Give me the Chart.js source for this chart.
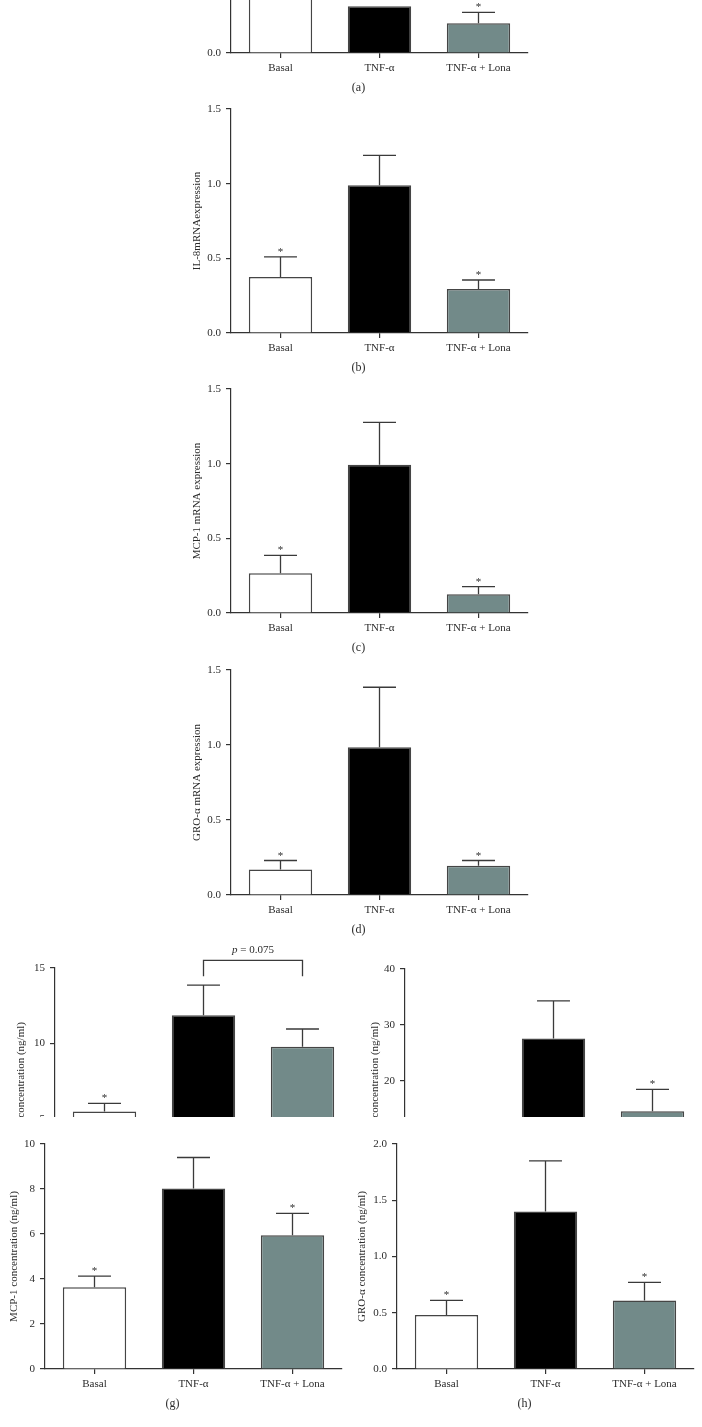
<!DOCTYPE html>
<html>
<head>
<meta charset="utf-8">
<script src="https://cdn.jsdelivr.net/npm/chart.js@4/dist/chart.umd.min.js"></script>
<style>
  html, body { margin: 0; padding: 0; background: #fff; }
  #page { position: relative; width: 702px; height: 1427px; overflow: hidden; background: #fff; }
  #page canvas { position: absolute; }
  #bottomRow { position: absolute; left: 0; top: 1117px; width: 702px; height: 310px; background: #fff; z-index: 2; }
</style>
</head>
<body>
<div id="page">
  <canvas id="chartA"></canvas>
  <canvas id="chartB"></canvas>
  <canvas id="chartC"></canvas>
  <canvas id="chartD"></canvas>
  <canvas id="chartE"></canvas>
  <canvas id="chartF"></canvas>
  <div id="bottomRow">
    <canvas id="chartG"></canvas>
    <canvas id="chartH"></canvas>
  </div>
</div>
<script>
// groups on the x axis
var categories = ["Basal", "TNF-\u03b1", "TNF-\u03b1 + Lona"];

// (a) IL-6 mRNA (mostly cut off at the top)
var il6MrnaMean = [1.6, 1.0, 0.64];
var il6MrnaErr = [0.3, 0, 0.23];
var il6MrnaStar = [true, false, true];

// (b) IL-8 mRNA
var il8MrnaMean = [0.375, 0.99, 0.295];
var il8MrnaErr = [0.135, 0.2, 0.06];
var il8MrnaStar = [true, false, true];

// (c) MCP-1 mRNA
var mcp1MrnaMean = [0.266, 0.993, 0.125];
var mcp1MrnaErr = [0.12, 0.284, 0.051];
var mcp1MrnaStar = [true, false, true];

// (d) GRO-alpha mRNA
var groMrnaMean = [0.17, 0.985, 0.195];
var groMrnaErr = [0.06, 0.4, 0.035];
var groMrnaStar = [true, false, true];

// (e) IL-6 protein, ng/ml (lower half covered by g)
var il6ConcMean = [5.47, 11.86, 9.78];
var il6ConcErr = [0.55, 2.01, 1.17];
var il6ConcStar = [true, false, false];
var il6Bracket = [15.5, 14.45]; // bar top, leg end (data units)

// (f) IL-8 protein, ng/ml (lower half covered by h)
var il8ConcMean = [8.0, 27.6, 14.6];
var il8ConcErr = [2.0, 6.7, 3.9];
var il8ConcStar = [true, false, true];

// (g) MCP-1 protein, ng/ml
var mcp1ConcMean = [3.63, 8.02, 5.94];
var mcp1ConcErr = [0.5, 1.38, 0.98];
var mcp1ConcStar = [true, false, true];

// (h) GRO-alpha protein, ng/ml
var groConcMean = [0.479, 1.4, 0.61];
var groConcErr = [0.131, 0.45, 0.16];
var groConcStar = [true, false, true];

var barColors = ["#ffffff", "#000000", "#728a89"];
var ink = "#2b2b2b";
var serif = "'Liberation Serif', 'DejaVu Serif', serif";

// error bars, stars, bracket and panel letter
var panelExtras = {
    id: "panelExtras",
    afterDatasetsDraw: function (chart, args, opts) {
        var ctx = chart.ctx;
        var y = chart.scales.y;
        var meta = chart.getDatasetMeta(0);
        var area = chart.chartArea;
        ctx.save();
        ctx.strokeStyle = "#3a3a3a";
        ctx.lineWidth = 1.3;
        ctx.fillStyle = ink;
        opts.mean.forEach(function (m, i) {
            var bar = meta.data[i];
            var top = y.getPixelForValue(m);
            var cap = y.getPixelForValue(m + opts.err[i]);
            var half = bar.width * 0.26;
            if (opts.err[i] > 0) {
                ctx.beginPath();
                ctx.moveTo(bar.x, top);
                ctx.lineTo(bar.x, cap);
                ctx.moveTo(bar.x - half, cap);
                ctx.lineTo(bar.x + half, cap);
                ctx.stroke();
            }
            if (opts.star[i]) {
                ctx.font = "11px " + serif;
                ctx.textAlign = "center";
                ctx.textBaseline = "alphabetic";
                ctx.fillText("*", bar.x, cap - 2);
            }
        });

        if (opts.bracket) {
            var b1 = meta.data[opts.bracket.from], b2 = meta.data[opts.bracket.to];
            var by = y.getPixelForValue(opts.bracket.top);
            var ly = y.getPixelForValue(opts.bracket.leg);
            ctx.beginPath();
            ctx.moveTo(b1.x, ly);
            ctx.lineTo(b1.x, by);
            ctx.lineTo(b2.x, by);
            ctx.lineTo(b2.x, ly);
            ctx.stroke();
            var mid = (b1.x + b2.x) / 2;
            ctx.textBaseline = "middle";
            ctx.textAlign = "left";
            ctx.font = "italic 11px " + serif;
            var wp = ctx.measureText("p").width;
            ctx.font = "11px " + serif;
            var wr = ctx.measureText(" = 0.075").width;
            var sx = mid - (wp + wr) / 2;
            ctx.font = "italic 11px " + serif;
            ctx.fillText("p", sx, by - 10);
            ctx.font = "11px " + serif;
            ctx.fillText(" = 0.075", sx + wp, by - 10);
        }

        if (opts.letter) {
            ctx.font = "12px " + serif;
            ctx.textAlign = "center";
            ctx.textBaseline = "middle";
            ctx.fillText(opts.letter, (area.left + area.right) / 2 - 21, area.bottom + 35);
        }
        ctx.restore();
    }
};

var PAD_L = 45, PAD_R = 12, PAD_T = 30, X_H = 25, PAD_B = 25;

function makePanel(id, g, mean, err, star, extra) {
    var canvas = document.getElementById(id);
    var w = PAD_L + (g.R - g.L) + PAD_R;
    var h = PAD_T + (g.B - g.T) + X_H + PAD_B;
    var offTop = g.offTop || 0;
    canvas.width = w;
    canvas.height = h;
    canvas.style.width = w + "px";
    canvas.style.height = h + "px";
    canvas.style.left = (g.L - PAD_L) + "px";
    canvas.style.top = (g.T - PAD_T - offTop) + "px";

    return new Chart(canvas.getContext("2d"), {
        type: "bar",
        data: {
            labels: categories,
            datasets: [{
                data: mean,
                backgroundColor: barColors,
                borderColor: "#454545",
                borderWidth: 1.5,
                barPercentage: 0.64,
                categoryPercentage: 1
            }]
        },
        options: {
            responsive: false,
            animation: false,
            devicePixelRatio: 1,
            layout: { padding: { left: 0, right: PAD_R, top: PAD_T, bottom: PAD_B } },
            plugins: {
                legend: { display: false },
                tooltip: { enabled: false },
                panelExtras: Object.assign({ mean: mean, err: err, star: star }, extra)
            },
            scales: {
                x: {
                    offset: true,
                    grid: { display: true, drawOnChartArea: false, drawTicks: true, tickLength: 5, offset: false, color: "#333", lineWidth: 1.2 },
                    border: { display: true, color: "#333", width: 1.2 },
                    ticks: { color: ink, padding: 4, font: { family: serif, size: 11 }, maxRotation: 0 },
                    afterFit: function (s) { s.height = X_H; }
                },
                y: {
                    min: g.min,
                    max: g.max,
                    grid: { display: true, drawOnChartArea: false, drawTicks: true, tickLength: 5, color: "#333", lineWidth: 1.2 },
                    border: { display: true, color: "#333", width: 1.2 },
                    ticks: {
                        stepSize: g.step,
                        color: ink,
                        padding: 5,
                        font: { family: serif, size: 11 },
                        callback: function (v) { return v.toFixed(g.dec); }
                    },
                    title: {
                        display: !!g.title,
                        text: g.title || "",
                        color: ink,
                        font: { family: serif, size: 11 },
                        padding: { top: g.titleX - (g.L - PAD_L) - 6.6, bottom: 0 }
                    },
                    afterFit: function (s) { s.width = PAD_L; }
                }
            }
        },
        plugins: [panelExtras]
    });
}

makePanel("chartA", { L: 231, R: 528, T: -227, B: 53, min: 0, max: 6, step: 2, dec: 1, title: "IL-6 mRNA expression", titleX: 197 },
    il6MrnaMean, il6MrnaErr, il6MrnaStar, { letter: "(a)" });
makePanel("chartB", { L: 231, R: 528, T: 109, B: 333, min: 0, max: 1.5, step: 0.5, dec: 1, title: "IL-8mRNAexpression", titleX: 197 },
    il8MrnaMean, il8MrnaErr, il8MrnaStar, { letter: "(b)" });
makePanel("chartC", { L: 231, R: 528, T: 389, B: 613, min: 0, max: 1.5, step: 0.5, dec: 1, title: "MCP-1 mRNA expression", titleX: 197 },
    mcp1MrnaMean, mcp1MrnaErr, mcp1MrnaStar, { letter: "(c)" });
makePanel("chartD", { L: 231, R: 528, T: 670, B: 895, min: 0, max: 1.5, step: 0.5, dec: 1, title: "GRO-\u03b1 mRNA expression", titleX: 197 },
    groMrnaMean, groMrnaErr, groMrnaStar, { letter: "(d)" });
makePanel("chartE", { L: 55, R: 352, T: 968, B: 1194, min: 0, max: 15, step: 5, dec: 0, title: "IL-6 concentration (ng/ml)", titleX: 21 },
    il6ConcMean, il6ConcErr, il6ConcStar, { letter: "(e)", bracket: { from: 1, to: 2, top: il6Bracket[0], leg: il6Bracket[1] } });
makePanel("chartF", { L: 405, R: 702, T: 969, B: 1193, min: 0, max: 40, step: 10, dec: 0, title: "IL-8 concentration (ng/ml)", titleX: 375 },
    il8ConcMean, il8ConcErr, il8ConcStar, { letter: "(f)" });
// g and h sit inside the white bottom row, which starts at y = 1117
makePanel("chartG", { L: 45, R: 342, T: 1144, B: 1369, offTop: 1117, min: 0, max: 10, step: 2, dec: 0, title: "MCP-1 concentration (ng/ml)", titleX: 14 },
    mcp1ConcMean, mcp1ConcErr, mcp1ConcStar, { letter: "(g)" });
makePanel("chartH", { L: 397, R: 694, T: 1144, B: 1369, offTop: 1117, min: 0, max: 2, step: 0.5, dec: 1, title: "GRO-\u03b1 concentration (ng/ml)", titleX: 362 },
    groConcMean, groConcErr, groConcStar, { letter: "(h)" });
</script>
</body>
</html>
